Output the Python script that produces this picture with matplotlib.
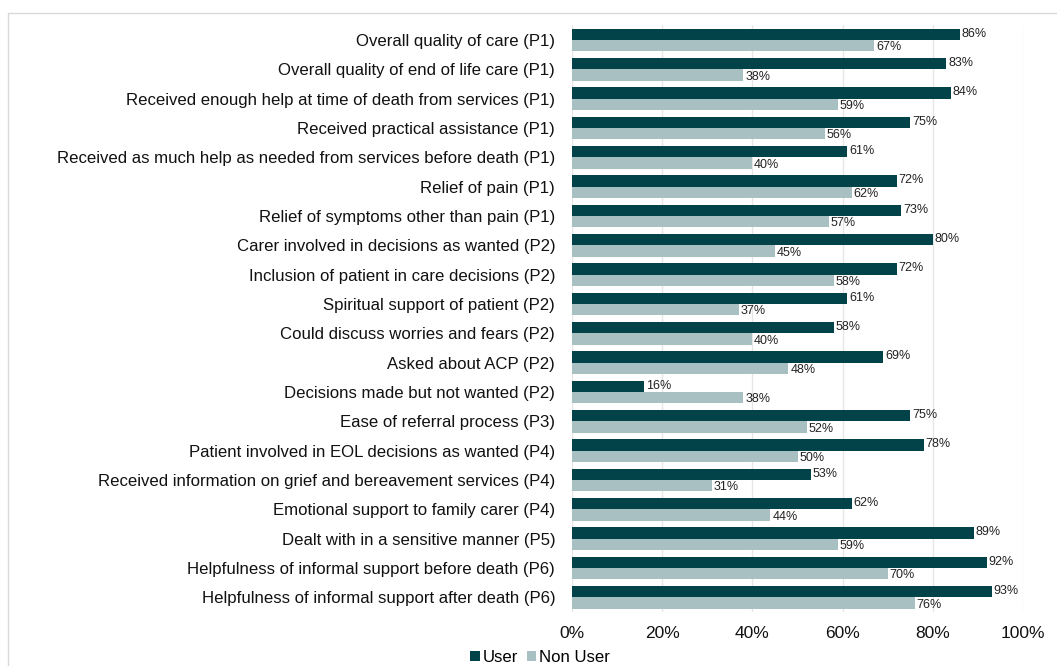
import matplotlib.pyplot as plt
import numpy as np
from matplotlib.patches import Rectangle

categories = [
    "Overall quality of care (P1)",
    "Overall quality of end of life care (P1)",
    "Received enough help at time of death from services (P1)",
    "Received practical assistance (P1)",
    "Received as much help as needed from services before death (P1)",
    "Relief of pain (P1)",
    "Relief of symptoms other than pain (P1)",
    "Carer involved in decisions as wanted (P2)",
    "Inclusion of patient in care decisions (P2)",
    "Spiritual support of patient (P2)",
    "Could discuss worries and fears (P2)",
    "Asked about ACP (P2)",
    "Decisions made but not wanted (P2)",
    "Ease of referral process (P3)",
    "Patient involved in EOL decisions as wanted (P4)",
    "Received information on grief and bereavement services (P4)",
    "Emotional support to family carer (P4)",
    "Dealt with in a sensitive manner (P5)",
    "Helpfulness of informal support before death (P6)",
    "Helpfulness of informal support after death (P6)",
]
user = [86, 83, 84, 75, 61, 72, 73, 80, 72, 61, 58, 69, 16, 75, 78, 53, 62, 89, 92, 93]
non_user = [67, 38, 59, 56, 40, 62, 57, 45, 58, 37, 40, 48, 38, 52, 50, 31, 44, 59, 70, 76]
ticks = [0, 20, 40, 60, 80, 100]

plt.rcParams['font.family'] = ['Liberation Sans', 'DejaVu Sans']

dark = '#024249'
light = '#a9c0c2'

fig = plt.figure(figsize=(10.57, 6.66), dpi=100)
ax = fig.add_axes([0.541, 0.081, 0.427, 0.881])

# рамка вокруг графика
fig.patches.append(Rectangle((8 / 1057, -0.01), 1.1, 1 - 13 / 666 + 0.01,
                             transform=fig.transFigure, fill=False,
                             edgecolor='#d9d9d9', linewidth=1))

y = np.arange(len(categories))
h = 0.39
ax.barh(y - h / 2, user, height=h, color=dark, label='User')
ax.barh(y + h / 2, non_user, height=h, color=light, label='Non User')

for i in range(len(categories)):
    ax.text(user[i] + 0.4, y[i] - h / 2 - 0.02, f"{user[i]}%", va='center', ha='left',
            fontsize=9, color='#222222')
    ax.text(non_user[i] + 0.4, y[i] + h / 2 + 0.05, f"{non_user[i]}%", va='center', ha='left',
            fontsize=9, color='#222222')

ax.set_yticks(y)
ax.set_yticklabels(categories, fontsize=12.1, color='#111111')
ax.set_ylim(len(categories) - 0.5, -0.5)
ax.set_xlim(0, 100)
ax.set_xticks(ticks)
ax.set_xticklabels([f"{t}%" for t in ticks], fontsize=12.5, color='#111111')
ax.tick_params(axis='x', length=0, pad=10)
ax.tick_params(axis='y', length=0, pad=12)
ax.grid(axis='x', color='#e6e6e6', linewidth=1)
ax.set_axisbelow(True)
for s in ax.spines.values():
    s.set_visible(False)

ax.legend(loc='upper center', bbox_to_anchor=(-0.07, -0.05), ncol=2, frameon=False,
          fontsize=12.1, handlelength=0.55, handleheight=0.55, handletextpad=0.2,
          columnspacing=0.5, borderpad=0)

fig.savefig('out.png', dpi=100)
